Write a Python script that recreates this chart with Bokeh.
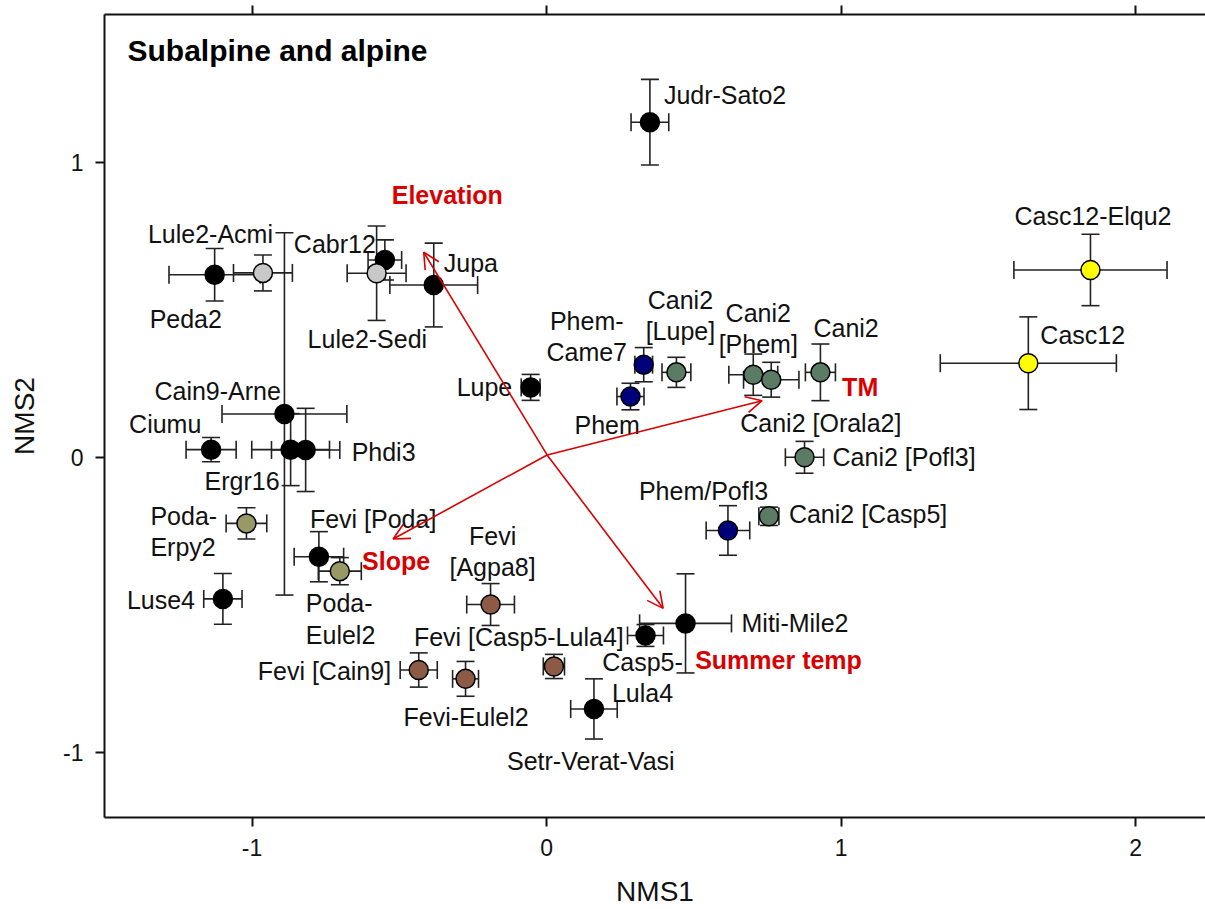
from bokeh.plotting import figure
from bokeh.models import (ColumnDataSource, Whisker, TeeHead, Arrow, OpenHead, Label,
                          LinearAxis, FixedTicker, Range1d)
from bokeh.core.properties import value
from bokeh.embed import file_html
from bokeh.resources import INLINE

# ---------------- data ----------------
names = ["Judr-Sato2", "Peda2", "Lule2-Acmi", "Cabr12", "Lule2-Sedi", "Jupa", "Lupe",
         "Phem-\nCame7", "Phem", "Cani2\n[Lupe]", "Cani2\n[Phem]", "Cani2 [Orala2]", "Cani2",
         "Cani2 [Pofl3]", "Cani2 [Casp5]", "Phem/Pofl3", "Miti-Mile2", "Casp5-\nLula4",
         "Fevi [Casp5-Lula4]", "Setr-Verat-Vasi", "Fevi\n[Agpa8]", "Fevi [Cain9]", "Fevi-Eulel2",
         "Luse4", "Poda-\nErpy2", "Fevi [Poda]", "Poda-\nEulel2", "Cain9-Arne", "Ciumu",
         "Ergr16", "Phdi3", "Casc12-Elqu2", "Casc12"]
nms1 = [0.351, -1.127, -0.963, -0.549, -0.577, -0.383, -0.054,
        0.330, 0.285, 0.441, 0.702, 0.763, 0.930,
        0.876, 0.755, 0.616, 0.472, 0.336,
        0.025, 0.161, -0.190, -0.434, -0.275,
        -1.099, -1.019, -0.773, -0.702, -0.890, -1.139,
        -0.869, -0.818, 1.847, 1.636]
nms2 = [1.137, 0.620, 0.626, 0.670, 0.625, 0.585, 0.238,
        0.315, 0.207, 0.289, 0.281, 0.264, 0.289,
        0.001, -0.199, -0.247, -0.562, -0.603,
        -0.708, -0.852, -0.498, -0.720, -0.750,
        -0.479, -0.223, -0.336, -0.385, 0.148, 0.027,
        0.027, 0.026, 0.636, 0.320]
err1 = [0.064, 0.155, 0.100, 0.057, 0.100, 0.149, 0.032,
        0.030, 0.046, 0.049, 0.083, 0.094, 0.051,
        0.065, 0.034, 0.074, 0.156, 0.061,
        0.036, 0.079, 0.081, 0.063, 0.044,
        0.065, 0.069, 0.084, 0.073, 0.212, 0.085,
        0.132, 0.116, 0.260, 0.299]
err2 = [0.145, 0.089, 0.061, 0.068, 0.160, 0.142, 0.044,
        0.058, 0.045, 0.051, 0.070, 0.059, 0.096,
        0.054, 0.031, 0.084, 0.168, 0.037,
        0.041, 0.102, 0.071, 0.058, 0.059,
        0.086, 0.053, 0.085, 0.046, 0.614, 0.041,
        0.122, 0.141, 0.121, 0.157]
group = ["other", "other", "Lule2", "other", "Lule2", "other", "other",
         "Phem", "Phem", "Cani2", "Cani2", "Cani2", "Cani2",
         "Cani2", "Cani2", "Phem", "other", "other",
         "Fevi", "other", "Fevi", "Fevi", "Fevi",
         "other", "Poda", "other", "Poda", "other", "other",
         "other", "other", "Casc12", "Casc12"]

vectors = ["Elevation", "TM", "Slope", "Summer temp"]
vec_x = [-0.417, 0.732, -0.521, 0.396]
vec_y = [0.696, 0.193, -0.276, -0.511]
vec_origin = (0.002, 0.009)

x_ticks = [-1, 0, 1, 2]
y_ticks = [-1, 0, 1]
x_tick_labels = ["-1", "0", "1", "2"]
y_tick_labels = ["-1", "0", "1"]

# ---------------- styles / label placement (screen px) ----------------
group_colors = {"other": "#000000", "Lule2": "#c8c8c8", "Phem": "#00007a",
                "Cani2": "#5b7b64", "Poda": "#999968", "Fevi": "#8c5a45", "Casc12": "#ffff00"}
lab_align = ["left", "left", "left", "left", "left", "left", "left",
             "center", "left", "center", "center", "left", "left",
             "left", "left", "left", "left", "center",
             "left", "left", "center", "left", "left",
             "left", "left", "left", "left", "left", "left",
             "left", "left", "left", "left"]
lab_dx = [14, -65, -115, -91, -69, 10, -74,
          -57, -56, 4, 5, -31, -7,
          28, 20, -89, 56, -3,
          -140, -87, 2, -161, -62,
          -96, -96, -9, -34, -130, -82,
          -86, 46, -76, 12]
lab_dy = [-27, 44, -39, -16, 66, -22, 0,
          -28, 28, -57, -46, 43, -44,
          0, -2, -39, 0, 42,
          -29, 52, -53, 1, 38,
          1, 8, -38, 48, -23, -26,
          31, 2, -54, -28]
vec_dx = [-32, 80, -31, 32]
vec_dy = [-57, -14, 22, 52]

FONT = "Liberation Sans"
RED = "#d90000"

p = figure(width=1205, height=909,
           x_range=Range1d(-1.501, 2.2376), y_range=Range1d(-1.22, 1.502),
           output_backend="svg", toolbar_location=None,
           min_border_left=104, min_border_right=0, min_border_top=14, min_border_bottom=92)
p.grid.visible = False
p.outline_line_color = None
p.background_fill_color = "white"

# axes
xa = p.below[0]
ya = p.left[0]
for ax, ticks, labs in ((xa, x_ticks, x_tick_labels), (ya, y_ticks, y_tick_labels)):
    ax.ticker = FixedTicker(ticks=ticks)
    ax.major_label_overrides = {t: l for t, l in zip(ticks, labs)}
    ax.minor_tick_line_color = None
    ax.major_tick_in = 0
    ax.major_tick_out = 9
    ax.major_tick_line_width = 2
    ax.axis_line_width = 2
    ax.axis_line_color = "#111111"
    ax.major_tick_line_color = "#111111"
    ax.major_label_text_font = FONT
    ax.major_label_text_font_size = "23px"
    ax.major_label_text_color = "#111111"
    ax.axis_label_text_font = FONT
    ax.axis_label_text_font_size = "28px"
    ax.axis_label_text_font_style = "normal"
    ax.axis_label_text_color = "#111111"
xa.axis_label = "NMS1"
ya.axis_label = "NMS2"
xa.major_label_standoff = 12
xa.axis_label_standoff = 17
ya.major_label_standoff = 12
ya.axis_label_standoff = 20

top = LinearAxis(ticker=FixedTicker(ticks=x_ticks),
                 major_label_overrides={t: "" for t in x_ticks},
                 major_label_standoff=0, major_tick_in=0, major_tick_out=9,
                 major_tick_line_width=2, axis_line_width=2, axis_line_color="#111111",
                 major_tick_line_color="#111111", minor_tick_line_color=None)
p.add_layout(top, "above")

# data source
xlo = [a - e for a, e in zip(nms1, err1)]
xhi = [a + e for a, e in zip(nms1, err1)]
ylo = [a - e for a, e in zip(nms2, err2)]
yhi = [a + e for a, e in zip(nms2, err2)]
src = ColumnDataSource(dict(x=nms1, y=nms2, xlo=xlo, xhi=xhi, ylo=ylo, yhi=yhi,
                            name=names, color=[group_colors[g] for g in group],
                            dx=lab_dx, dy=lab_dy, align=lab_align))

wcol = "#222222"
p.add_layout(Whisker(source=src, base="y", lower="xlo", upper="xhi", dimension="width",
                     line_color=wcol, line_width=1.6,
                     lower_head=TeeHead(size=18, line_color=wcol, line_width=1.6),
                     upper_head=TeeHead(size=18, line_color=wcol, line_width=1.6)))
p.add_layout(Whisker(source=src, base="x", lower="ylo", upper="yhi", dimension="height",
                     line_color=wcol, line_width=1.6,
                     lower_head=TeeHead(size=18, line_color=wcol, line_width=1.6),
                     upper_head=TeeHead(size=18, line_color=wcol, line_width=1.6)))

# environmental vectors
vsrc = ColumnDataSource(dict(x0=[vec_origin[0]] * len(vectors), y0=[vec_origin[1]] * len(vectors),
                             x1=vec_x, y1=vec_y, name=vectors, dx=vec_dx, dy=vec_dy))
p.add_layout(Arrow(source=vsrc, x_start="x0", y_start="y0", x_end="x1", y_end="y1",
                   line_color=RED, line_width=1.6,
                   end=OpenHead(size=16, line_color=RED, line_width=1.6)))

p.scatter(x="x", y="y", source=src, size=19, fill_color="color", line_color="#000000",
          line_width=1.5)

p.text(x="x", y="y", text="name", source=src, x_offset="dx", y_offset="dy",
       text_align="align", text_baseline="middle", text_font=value(FONT),
       text_font_size="25px", text_color="#111111", text_line_height=1.12)

p.text(x="x1", y="y1", text="name", source=vsrc, x_offset="dx", y_offset="dy",
       text_align="left", text_baseline="middle", text_font=value(FONT),
       text_font_size="25px", text_font_style="bold", text_color=RED)

p.add_layout(Label(x=-1.423, y=1.380, text="Subalpine and alpine", text_font=FONT,
                   text_font_size="30px", text_font_style="bold", text_baseline="middle",
                   text_color="#000000"))

open("out.html", "w").write(file_html(p, INLINE))
